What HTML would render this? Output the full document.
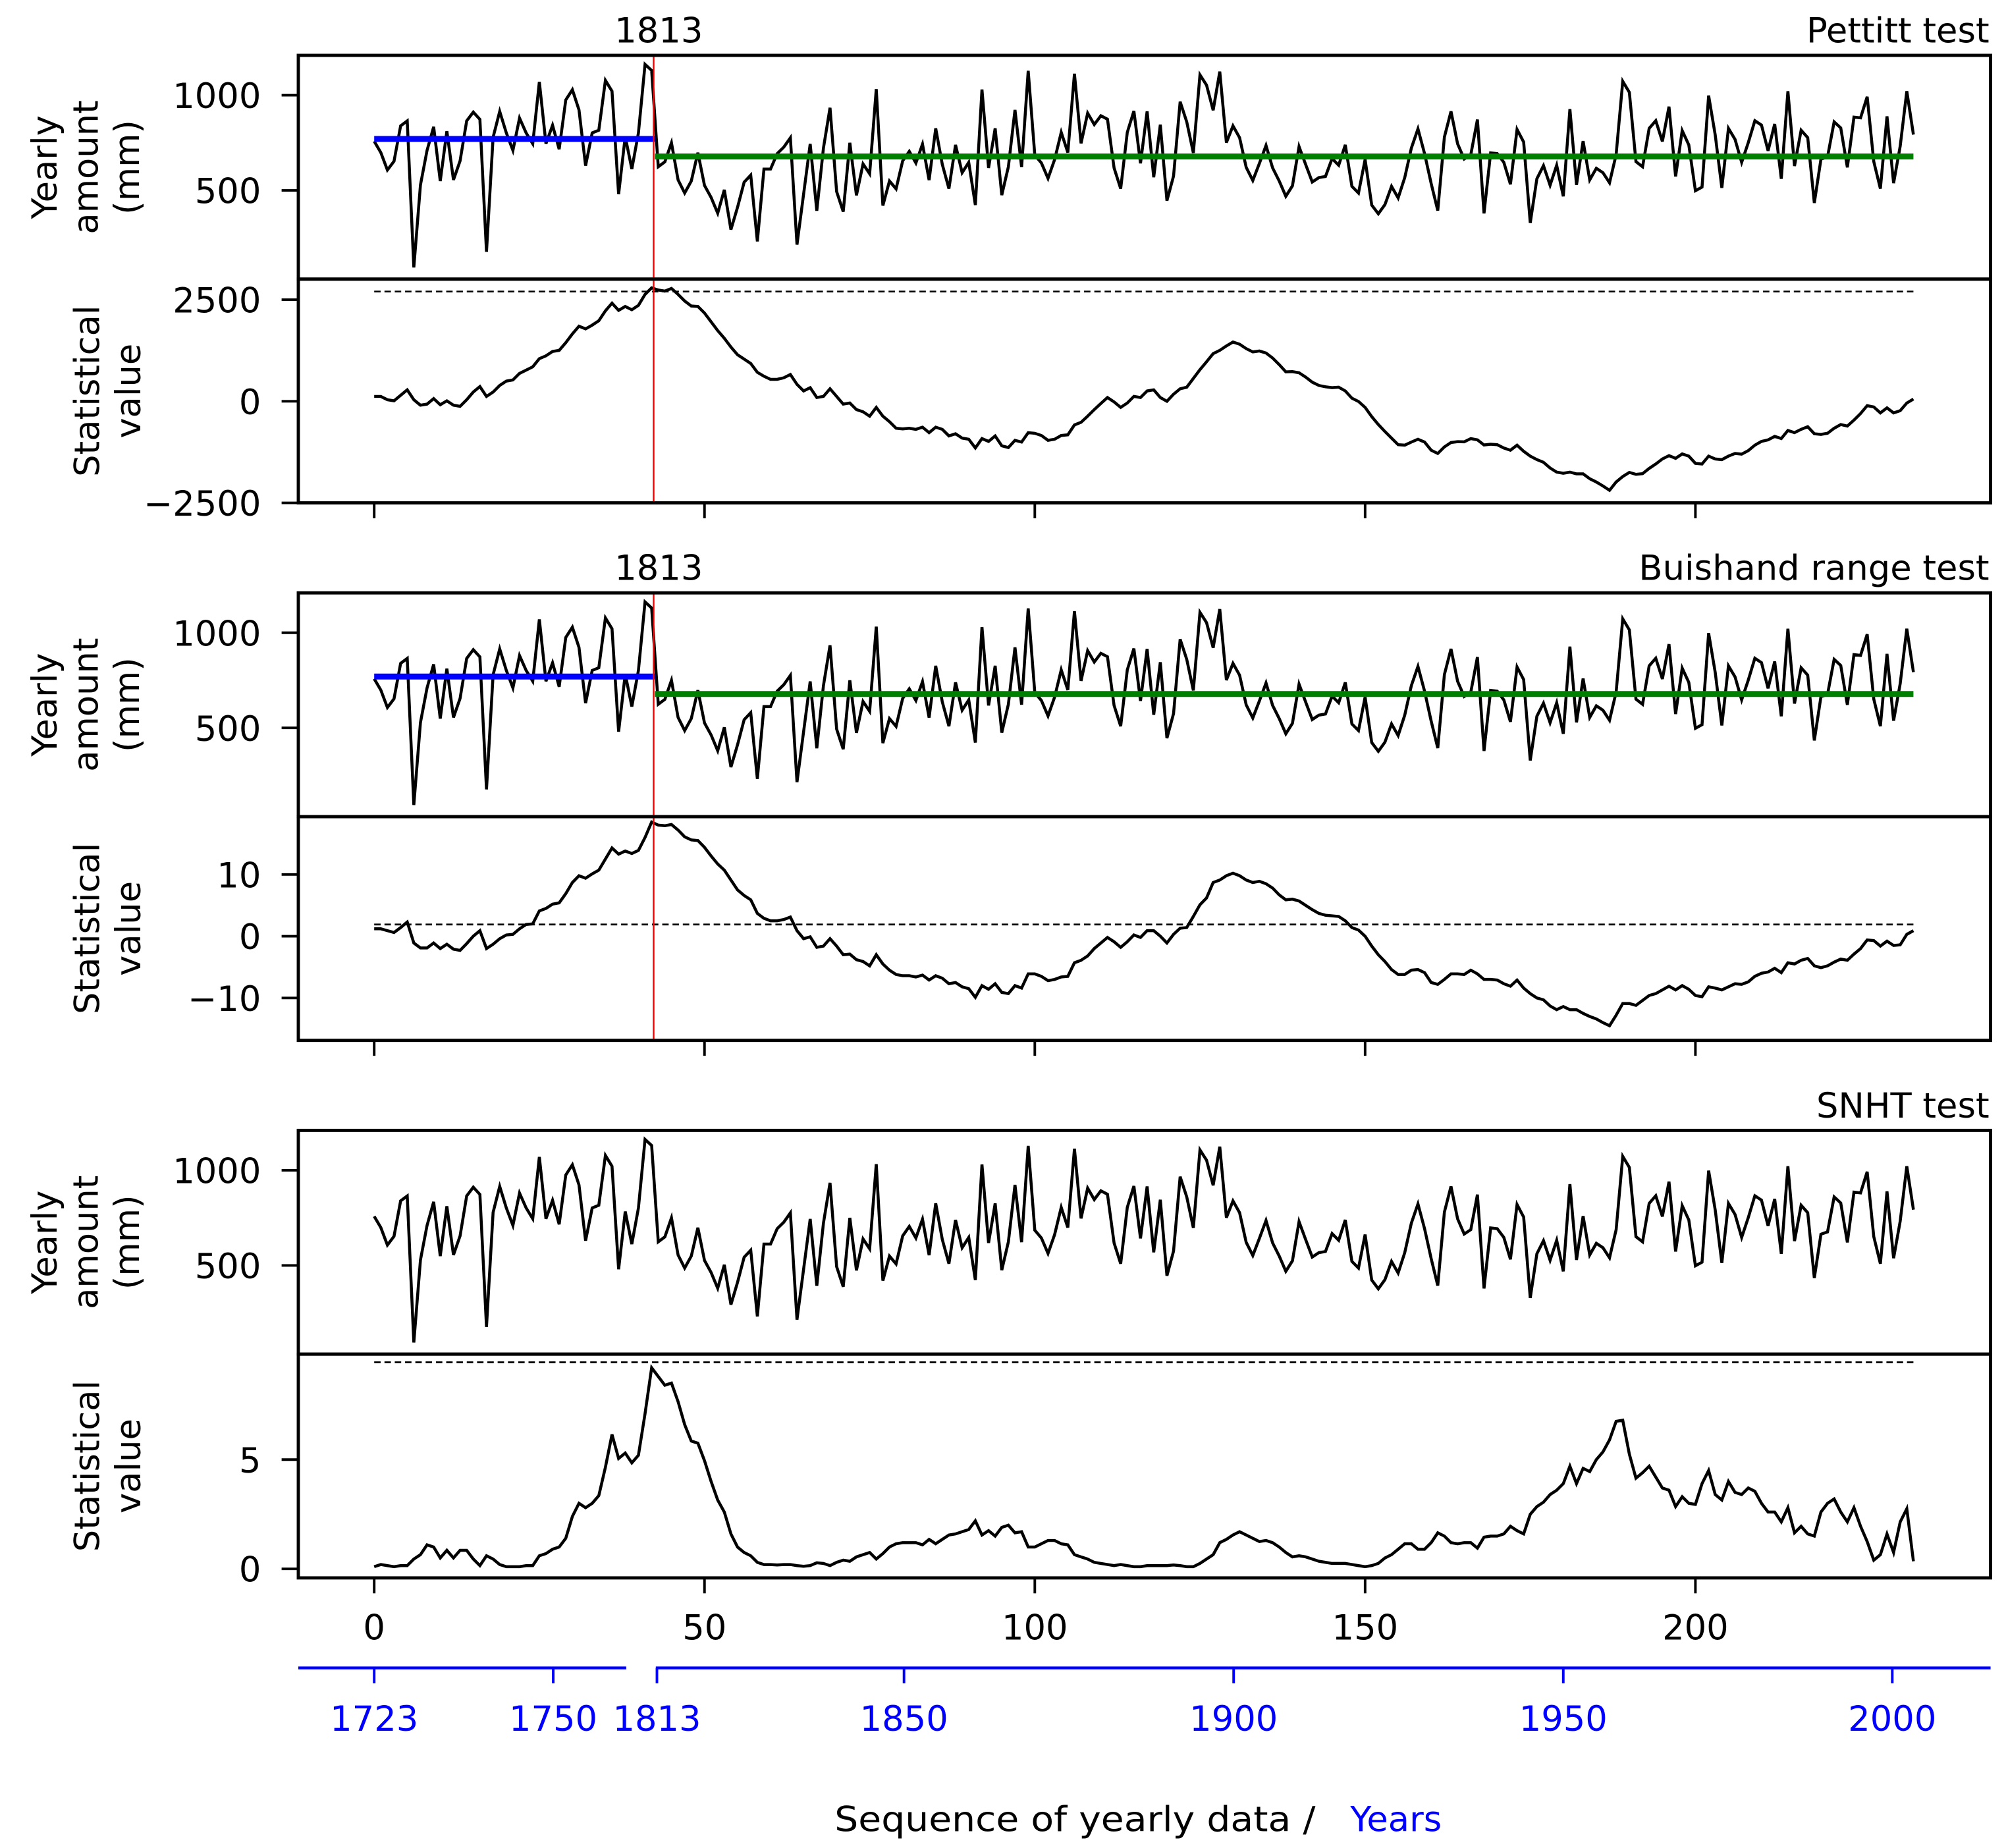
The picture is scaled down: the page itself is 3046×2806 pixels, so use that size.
<!DOCTYPE html>
<html><head><meta charset="utf-8"><title>Homogeneity tests</title>
<style>
html,body{margin:0;padding:0;background:#fff;}
svg{display:block;}
text{font-family:"DejaVu Sans","Liberation Sans",sans-serif;}
</style></head>
<body>
<svg id="chart" xmlns="http://www.w3.org/2000/svg" width="3046" height="2806" viewBox="0 0 1560 1437"></svg>
<script>
const categories = Array.from({length:234},(_, i)=>i);
const precip = [758,699,607,653,839,865,95,528,710,834,549,811,555,655,865,911,873,177,779,915,802,710,880,802,745,1070,745,842,716,975,1029,923,630,802,816,1078,1021,480,783,612,802,1162,1130,624,650,750,555,486,549,698,526,463,380,503,294,411,543,580,232,612,612,693,727,776,215,480,744,393,721,934,494,388,750,474,639,587,1032,420,549,508,
655,705,644,743,554,826,636,509,739,593,647,423,1030,618,826,475,624,923,622,1128,685,644,563,662,805,699,1113,747,906,846,892,874,618,509,805,917,642,915,569,845,446,575,966,860,697,1107,1053,921,1124,751,839,777,621,552,642,736,618,549,469,524,730,636,544,567,573,667,632,739,521,486,662,423,377,425,521,460,567,722,
823,693,536,394,780,915,745,665,688,872,379,697,693,647,532,820,754,329,561,630,527,632,469,927,529,759,555,616,593,540,688,1073,1015,651,624,826,866,757,940,573,814,739,498,517,998,791,513,826,768,647,751,866,843,708,849,561,1021,628,816,777,434,664,676,860,828,621,885,881,992,651,509,889,538,733,1021,793];
const pettitt = [119,119,38,11,146,281,38,-97,-70,65,-86,11,-97,-124,38,227,362,119,227,389,497,524,686,767,848,1048,1118,1226,1253,1442,1658,1847,1782,1874,1982,2225,2414,2236,2333,2252,2360,2630,2792,2738,2711,2776,2630,2468,2344,2333,2171,1955,1739,1550,1334,1145,1037,929,713,616,540,540,578,659,416,254,335,92,119,308,119,-70,-43,-205,-259,-367,-151,-367,-502,-664,-680,-664,-691,-637,-772,-637,-691,-853,-799,-907,-934,-1150,-918,-988,-853,-1096,-1139,-961,-1004,-772,-788,-842,-961,-934,-842,-826,-583,-518,-367,-205,-54,92,-16,-151,-43,119,92,254,281,92,0,173,308,346,562,778,972,1172,1253,1361,1458,1404,1296,1215,1237,1188,1064,902,724,729,702,594,470,389,356,335,346,254,76,-5,-151,-378,-572,-745,-907,-1069,-1080,-1004,-934,-1004,-1204,-1285,-1123,-1015,-994,-999,-918,-950,-1075,-1058,-1069,-1150,-1204,-1080,-1231,-1350,-1436,-1501,-1642,-1744,-1771,-1744,-1787,-1787,-1906,-1987,-2084,-2192,-1987,-1852,-1750,-1798,-1782,-1652,-1544,-1420,-1339,-1404,-1296,-1350,-1528,-1544,-1350,-1420,-1436,-1350,-1285,-1301,-1215,-1080,-988,-950,-864,-918,-718,-772,-691,-626,-799,-815,-788,-664,-572,-610,-464,-302,-108,-140,-286,-162,-286,-232,-43,54];
const buishand = [1.2,1.2,0.9,0.6,1.4,2.3,-1.1,-1.9,-1.9,-1.1,-2.0,-1.3,-2.1,-2.3,-1.2,0,0.9,-2.0,-1.3,-0.4,0.2,0.3,1.2,1.9,2.0,4.1,4.5,5.2,5.4,6.9,8.7,9.8,9.4,10.1,10.7,12.5,14.3,13.3,13.8,13.4,13.9,16.0,18.5,18.0,17.9,18.1,17.2,16.1,15.6,15.5,14.4,13.0,11.7,10.7,9.1,7.5,6.6,5.9,3.7,2.9,2.5,2.5,2.7,3.1,0.9,-0.4,-0.1,-1.8,-1.6,-0.4,-1.6,-3.0,-2.9,-3.8,-4.1,-4.8,-3.0,-4.5,-5.5,-6.2,-6.4,-6.4,-6.6,-6.3,-7.1,-6.4,-6.8,-7.7,-7.5,-8.2,-8.5,-9.9,-8.0,-8.6,-7.7,-9.1,-9.3,-8.0,-8.4,-6.1,-6.1,-6.5,-7.2,-7.0,-6.6,-6.5,-4.3,-3.9,-3.2,-2.0,-1.1,-0.2,-0.9,-1.8,-0.9,0.2,-0.2,0.9,0.9,0,-1.1,0.3,1.3,1.4,3.2,5.1,6.2,8.7,9.1,9.8,10.2,9.8,9.1,8.7,8.9,8.5,7.8,6.7,5.9,6.0,5.7,5.0,4.3,3.7,3.4,3.3,3.2,2.5,1.4,1.0,0,-1.6,-3.0,-4.1,-5.4,-6.2,-6.2,-5.5,-5.4,-5.9,-7.5,-7.8,-7.0,-6.1,-6.1,-6.2,-5.5,-6.1,-7.0,-7.0,-7.1,-7.7,-8.1,-7.1,-8.4,-9.3,-10.0,-10.3,-11.3,-11.9,-11.4,-11.9,-11.9,-12.5,-13.0,-13.4,-14.0,-14.5,-12.8,-10.9,-10.9,-11.2,-10.4,-9.6,-9.3,-8.7,-8.1,-8.7,-8.0,-8.6,-9.6,-9.8,-8.2,-8.4,-8.7,-8.2,-7.7,-7.8,-7.4,-6.5,-6.0,-5.8,-5.2,-5.9,-4.3,-4.5,-3.9,-3.6,-4.8,-5.1,-4.8,-4.2,-3.7,-3.9,-2.9,-2.0,-0.6,-0.7,-1.6,-0.8,-1.5,-1.4,0.3,0.9];
const snht = [0.1,0.2,0.15,0.1,0.15,0.15,0.45,0.65,1.1,1.0,0.5,0.85,0.5,0.85,0.85,0.45,0.15,0.6,0.45,0.2,0.1,0.1,0.1,0.15,0.15,0.6,0.7,0.9,1.0,1.4,2.4,3.0,2.8,3.0,3.35,4.65,6.15,5.05,5.3,4.85,5.2,7.1,9.2,8.8,8.4,8.5,7.65,6.6,5.85,5.75,4.95,4.0,3.15,2.6,1.6,1.0,0.75,0.6,0.3,0.2,0.2,0.18,0.2,0.2,0.15,0.12,0.15,0.28,0.25,0.15,0.3,0.4,0.35,0.55,0.65,0.75,0.45,0.7,1.0,1.15,1.2,1.2,1.2,1.1,1.35,1.15,1.35,1.55,1.6,1.7,1.8,2.2,1.55,1.75,1.5,1.9,2.0,1.65,1.7,1.0,1.0,1.15,1.3,1.3,1.15,1.1,0.65,0.55,0.45,0.3,0.25,0.2,0.15,0.2,0.15,0.1,0.1,0.15,0.15,0.15,0.15,0.18,0.15,0.1,0.1,0.25,0.45,0.65,1.2,1.35,1.55,1.7,1.55,1.4,1.25,1.3,1.2,1.0,0.75,0.55,0.6,0.55,0.45,0.35,0.3,0.25,0.25,0.25,0.2,0.15,0.1,0.15,0.25,0.5,0.65,0.9,1.15,1.15,0.9,0.9,1.2,1.65,1.5,1.2,1.15,1.2,1.2,0.95,1.45,1.5,1.5,1.6,1.95,1.75,1.6,2.5,2.85,3.05,3.4,3.6,3.9,4.7,3.9,4.6,4.45,5.0,5.35,5.9,6.75,6.8,5.25,4.15,4.4,4.7,4.2,3.7,3.6,2.85,3.3,3.0,2.95,3.9,4.5,3.4,3.15,4.0,3.5,3.4,3.7,3.55,3.0,2.6,2.6,2.15,2.8,1.65,1.95,1.6,1.5,2.6,3.0,3.2,2.6,2.15,2.8,1.95,1.25,0.4,0.65,1.6,0.75,2.15,2.75,0.35];
const breakIndex = [42.3];
const meanBefore = [770];
const meanAfter = [678];
const thresholds = [2700, 1.9, 9.45];
const testTitles = ["Pettitt test","Buishand range test","SNHT test"];
const xTicks = [0,50,100,150,200];
const yearTicks = ["1723","1750","1813","1850","1900","1950","2000"];
const yearTickIdx = [0,27.1,42.8,80.2,130.1,180,229.8];
const precipTicks = [500,1000];
const pettittTicks = [-2500,0,2500];
const buishandTicks = [-10,0,10];
const snhtTicks = [0,5];

const NS="http://www.w3.org/2000/svg";
const svg=document.getElementById('chart');
const L=232,R=1548;
const FS=27;
function xs(i){return 291+i*(1488-291)/233;}
function mk(tag,attrs,parent){const e=document.createElementNS(NS,tag);for(const k in attrs)e.setAttribute(k,attrs[k]);(parent||svg).appendChild(e);return e;}
function txt(s,attrs,parent){const e=mk('text',attrs,parent);e.textContent=s;return e;}

const groups=[
 {T:43, stat:pettitt, sTicks:pettittTicks, sLabels:["\u22122500","0","2500"], s0:312, sk:79/2500, mean:true, brk:true, name:'pettitt'},
 {T:461, stat:buishand, sTicks:buishandTicks, sLabels:["\u221210","0","10"], s0:728, sk:4.8, mean:true, brk:true, name:'buishand'},
 {T:879, stat:snht, sTicks:snhtTicks, sLabels:["0","5"], s0:1220, sk:17, mean:false, brk:false, name:'snht'}
];
groups.forEach((g,gi)=>{
  const gEl=mk('g',{});
  
  
  const T=g.T, mid=T+174, B=T+348;
  const py=v=>T+31+(1000-v)*0.148;
  const sy=v=>g.s0-v*g.sk;
  let d='';precip.forEach((v,i)=>{d+=(i?'L':'M')+xs(categories[i]).toFixed(2)+','+py(v).toFixed(2);});
  const pl=mk('path',{d:d,fill:'none',stroke:'#000','stroke-width':2.3,'stroke-linejoin':'miter'},gEl);
  
  
  if(g.mean){
    const b=mk('line',{x1:xs(0),x2:xs(breakIndex[0]+0.2),y1:py(meanBefore[0]),y2:py(meanBefore[0]),stroke:'#0000ff','stroke-width':4.6},gEl);
    
    
    const a=mk('line',{x1:xs(breakIndex[0]+0.2),x2:xs(233),y1:py(meanAfter[0]),y2:py(meanAfter[0]),stroke:'#008000','stroke-width':4.6},gEl);
    
    
  }
  const th=mk('line',{x1:xs(0),x2:xs(233),y1:sy(thresholds[gi]),y2:sy(thresholds[gi]),stroke:'#000','stroke-width':1.4,'stroke-dasharray':'5,3'},gEl);
  
  
  d='';g.stat.forEach((v,i)=>{d+=(i?'L':'M')+xs(categories[i]).toFixed(2)+','+sy(v).toFixed(2);});
  const sl=mk('path',{d:d,fill:'none',stroke:'#000','stroke-width':2.3},gEl);
  
  
  if(g.brk){
    const rl=mk('line',{x1:xs(breakIndex[0]),x2:xs(breakIndex[0]),y1:T,y2:B,stroke:'#ff0000','stroke-width':1.3},gEl);
    
    
    const bl=txt('1813',{x:xs(breakIndex[0])+4,y:T-10,'text-anchor':'middle','font-size':FS},gEl);
    
    
  }
  const f1=mk('rect',{x:L,y:T,width:R-L,height:174,fill:'none',stroke:'#000','stroke-width':2.5},gEl);
  
  
  const f2=mk('rect',{x:L,y:mid,width:R-L,height:174,fill:'none',stroke:'#000','stroke-width':2.5},gEl);
  
  
  const tt=txt(testTitles[gi],{x:1547,y:T-10,'text-anchor':'end','font-size':FS},gEl);
  
  
  precipTicks.forEach(v=>{
    const y=py(v);
    mk('line',{x1:L-13,x2:L,y1:y,y2:y,stroke:'#000','stroke-width':2},gEl);
    const t=txt(String(v),{x:203,y:y+10,'text-anchor':'end','font-size':FS},gEl);
    
    
  });
  g.sTicks.forEach((v,k)=>{
    const y=sy(v);
    mk('line',{x1:L-13,x2:L,y1:y,y2:y,stroke:'#000','stroke-width':2},gEl);
    const t=txt(g.sLabels[k],{x:203,y:y+10,'text-anchor':'end','font-size':FS},gEl);
    
    
  });
  const yl=txt('',{transform:'translate(0,'+(T+87)+') rotate(-90)','text-anchor':'middle','font-size':FS},gEl);
  
  
  [['Yearly',44],['amount',76],['(mm)',108]].forEach(([s,x])=>{const ts=mk('tspan',{x:0,y:x},yl);ts.textContent=s;});
  const sl2=txt('',{transform:'translate(0,'+(mid+87)+') rotate(-90)','text-anchor':'middle','font-size':FS},gEl);
  
  
  [['Statistical',77],['value',109]].forEach(([s,x])=>{const ts=mk('tspan',{x:0,y:x},sl2);ts.textContent=s;});
  xTicks.forEach(v=>{
    mk('line',{x1:xs(v),x2:xs(v),y1:B,y2:B+12,stroke:'#000','stroke-width':2},gEl);
    if(gi===2){
      const t=txt(String(v),{x:xs(v),y:B+48,'text-anchor':'middle','font-size':FS},gEl);
      
      
    }
  });
});
const ya=mk('g',{});


mk('line',{x1:L,x2:487,y1:1297,y2:1297,stroke:'#0000ff','stroke-width':2.3},ya);
mk('line',{x1:510,x2:R,y1:1297,y2:1297,stroke:'#0000ff','stroke-width':2.3},ya);
yearTicks.forEach((s,k)=>{
  const x=xs(yearTickIdx[k]);
  mk('line',{x1:x,x2:x,y1:1297,y2:1309,stroke:'#0000ff','stroke-width':2},ya);
  const t=txt(s,{x:x,y:1346,'text-anchor':'middle','font-size':FS,fill:'#0000ff'},ya);
  
  
});
const xt=txt('Sequence of yearly data /',{x:649,y:1424,'font-size':FS,textLength:374,lengthAdjust:'spacingAndGlyphs'},null);


const yt=txt('Years',{x:1050,y:1424,'font-size':FS,fill:'#0000ff'},null);


</script>
</body></html>
